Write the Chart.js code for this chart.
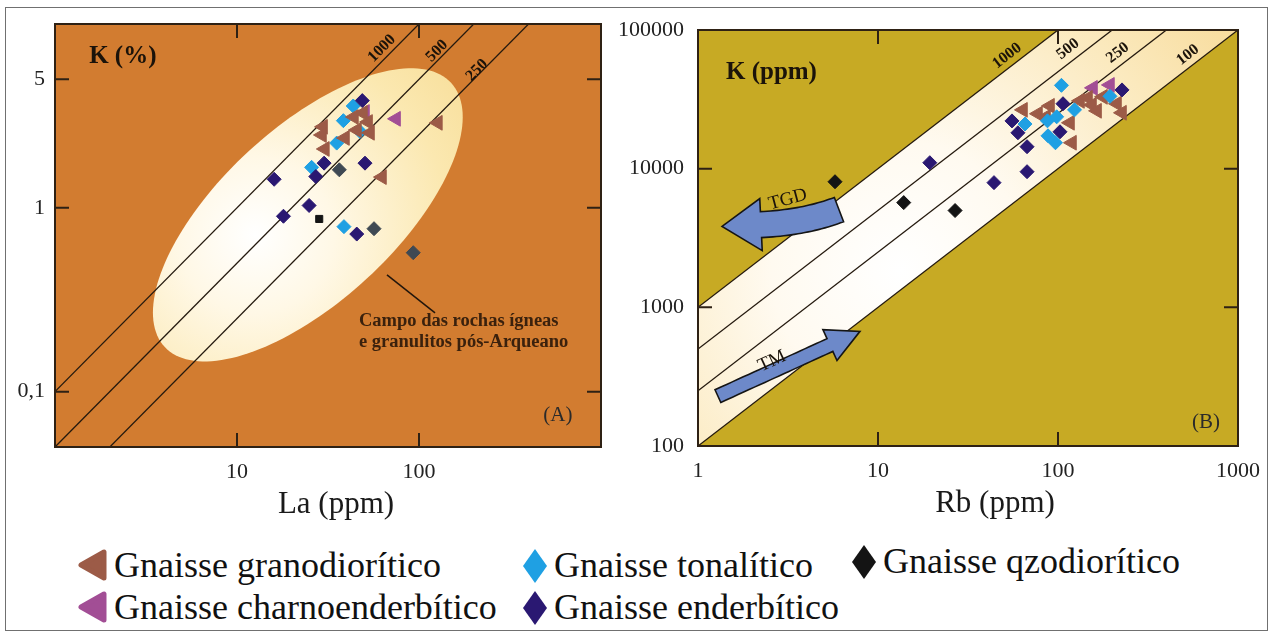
<!DOCTYPE html>
<html>
<head>
<meta charset="utf-8">
<script src="https://cdn.jsdelivr.net/npm/chart.js@4.4.1/dist/chart.umd.min.js"></script>
<style>
  body { margin: 0; background: #fff; width: 1274px; height: 635px; position: relative; overflow: hidden;
         font-family: 'Liberation Serif', 'Times New Roman', serif; }
  .frame { position: absolute; left: 5px; top: 7px; width: 1261px; height: 622px; border: 1px solid #707070; }
  #chartA { position: absolute; left: 0; top: 0; }
  #chartB { position: absolute; left: 596px; top: 0; }
  .item { position: absolute; height: 40px; display: flex; align-items: center; font-size: 36px; color: #111; white-space: nowrap; }
  .item svg { position: absolute; top: 3px; }
  .item span { position: absolute; }
</style>
</head>
<body>
<div class="frame"></div>
<canvas id="chartA" width="620" height="530"></canvas>
<canvas id="chartB" width="678" height="530"></canvas>
<div id="legend"></div>

<script>
const serif = "'Liberation Serif', 'Times New Roman', serif";

// ---- (A) La (ppm) x K (%) ----
const laRange = [1, 1000];
const kPctRange = [0.05, 10];
const laTicks = [10, 100];
const kPctTicks = [0.1, 1, 5];
const ratiosA = [1000, 500, 250];

const granodioriticoA = [[29.7, 2.76], [29.3, 2.49], [30.4, 2.09], [39.2, 2.40], [43.9, 3.12], [49.2, 3.28],
                         [52.5, 2.93], [45.6, 2.65], [53.8, 2.56], [62.6, 1.47], [127, 2.90]];
const charnoenderbiticoA = [[50.5, 3.32], [74.8, 3.05]];
const tonaliticoA = [[43.5, 3.58], [38.4, 2.98], [47.4, 2.60], [35.3, 2.25], [25.7, 1.66], [38.7, 0.79]];
const qzodioriticoA = [[36.5, 1.61], [56.6, 0.77], [93, 0.57], [28.3, 0.87]];
const enderbiticoA = [[48.8, 3.83], [30.1, 1.75], [50.5, 1.75], [16.0, 1.43], [27.1, 1.48], [24.9, 1.03],
                      [18.0, 0.90], [45.5, 0.72]];

// ---- (B) Rb (ppm) x K (ppm) ----
const rbRange = [1, 1000];
const kPpmRange = [100, 100000];
const rbTicks = [1, 10, 100, 1000];
const kPpmTicks = [100, 1000, 10000, 100000];
const ratiosB = [1000, 500, 250, 100];

const granodioriticoB = [[63.9, 26550], [77.4, 24890], [90.3, 28390], [85.8, 23660], [116.6, 21430], [119.6, 15380],
                         [132.5, 30830], [146.8, 32420], [154.5, 28830], [164.8, 26140], [212.7, 29400],
                         [226.8, 25300], [177.8, 32960]];
const charnoenderbiticoB = [[156.5, 38260], [194.4, 40180]];
const tonaliticoB = [[104.5, 39900], [123.5, 26550], [65.6, 20990], [87.4, 22130], [98.3, 23660], [88.0, 17260],
                     [96.8, 15380], [194.4, 33250]];
const qzodioriticoB = [[5.77, 8050], [13.9, 5690], [26.8, 4990]];
const enderbiticoB = [[19.4, 11040], [44.1, 7930], [67.3, 9510], [67.3, 14400], [55.5, 22100], [59.9, 18150],
                      [106.6, 29400], [102.6, 18450], [226.8, 36980]];

const colors = {
  grano: '#9c5b47', charno: '#a24e95', tonal: '#1fa0e3', qzo: '#141414', qzoGrey: '#3f4953', ender: '#2a1872'
};

const toPts = arr => arr.map(([x, y]) => ({ x, y }));

function ratioLine(r, xr, scaleK) {
  return {
    type: 'scatter', showLine: true, order: 10,
    data: [{ x: xr[0], y: r * xr[0] / scaleK }, { x: xr[1], y: r * xr[1] / scaleK }],
    borderColor: '#24190e', borderWidth: 1.3, pointRadius: 0
  };
}

function pointSet(arr, color, style, radius, extra) {
  return Object.assign({
    type: 'scatter', order: 1, data: toPts(arr),
    backgroundColor: color, borderColor: color, borderWidth: 1,
    pointStyle: style, pointRadius: radius,
    pointRotation: style === 'triangle' ? -90 : 0
  }, extra || {});
}

// dark outline + ticks pointing inward on all four sides
const frameTicks = {
  id: 'frameTicks',
  afterDatasetsDraw(chart, args, opts) {
    const { ctx, chartArea: a, scales: { x, y } } = chart;
    ctx.save();
    ctx.strokeStyle = '#2e2114';
    ctx.lineWidth = 2;
    ctx.beginPath();
    x.ticks.forEach(t => {
      const p = x.getPixelForValue(t.value);
      ctx.moveTo(p, a.bottom); ctx.lineTo(p, a.bottom - opts.length);
      ctx.moveTo(p, a.top); ctx.lineTo(p, a.top + opts.length);
    });
    y.ticks.forEach(t => {
      const p = y.getPixelForValue(t.value);
      ctx.moveTo(a.left, p); ctx.lineTo(a.left + opts.length, p);
      ctx.moveTo(a.right, p); ctx.lineTo(a.right - opts.length, p);
    });
    ctx.stroke();
    ctx.strokeRect(a.left, a.top, a.right - a.left, a.bottom - a.top);
    ctx.restore();
  }
};

// plot background and the shaded field behind the data
const field = {
  id: 'field',
  beforeDatasetsDraw(chart, args, opts) {
    const { ctx, chartArea: a } = chart;
    ctx.save();
    ctx.fillStyle = opts.background;
    ctx.fillRect(a.left, a.top, a.right - a.left, a.bottom - a.top);
    ctx.beginPath();
    ctx.rect(a.left, a.top, a.right - a.left, a.bottom - a.top);
    ctx.clip();
    if (opts.draw) opts.draw(chart);
    ctx.restore();
  },
  afterDatasetsDraw(chart, args, opts) {
    const { ctx, chartArea: a, scales: { x, y } } = chart;
    ctx.save();
    if (opts.overlay) opts.overlay(chart);
    (opts.notes || []).forEach(n => {
      const px = x.getPixelForValue(n.at[0]);
      const py = y.getPixelForValue(n.at[1]);
      ctx.save();
      ctx.translate(px, py);
      if (n.rotate) ctx.rotate(n.rotate * Math.PI / 180);
      ctx.font = n.font;
      ctx.fillStyle = n.color || '#1b130a';
      ctx.textAlign = n.align || 'center';
      ctx.textBaseline = 'middle';
      ctx.fillText(n.text, 0, 0);
      ctx.restore();
    });
    // ratio labels follow the slope of their lines
    (opts.ratioLabels || []).forEach(l => {
      const x0 = x.getPixelForValue(1), x1 = x.getPixelForValue(10);
      const y0 = y.getPixelForValue(l.k), y1 = y.getPixelForValue(l.k * 10);
      const ang = Math.atan2(y1 - y0, x1 - x0);
      ctx.save();
      ctx.translate(x.getPixelForValue(l.at[0]), y.getPixelForValue(l.at[1]));
      ctx.rotate(ang);
      ctx.font = 'bold 16px ' + serif;
      ctx.fillStyle = '#1b130a';
      ctx.textAlign = 'center';
      ctx.textBaseline = 'middle';
      ctx.fillText(l.text, 0, 0);
      ctx.restore();
    });
    if (opts.title) {
      ctx.font = '31px ' + serif;
      ctx.fillStyle = '#1a1a1a';
      ctx.textAlign = 'center';
      ctx.textBaseline = 'middle';
      ctx.fillText(opts.title.text, (a.left + a.right) / 2 + opts.title.dx, a.bottom + 58);
    }
    ctx.restore();
  }
};

function logTicks(values, fmt, pad) {
  return {
    afterBuildTicks: s => { s.ticks = values.map(v => ({ value: v })); },
    ticks: {
      autoSkip: false, maxRotation: 0, color: '#222', padding: pad,
      font: { family: serif, size: 22 },
      callback: v => fmt(v)
    },
    grid: { display: false, drawTicks: false },
    border: { display: false }
  };
}

const commaFmt = v => String(v).replace('.', ',');

// ---------- chart A ----------
const ellipseA = { center: [24.5, 0.916], major: [0.787, 0.718], minor: [-0.324, 0.347], glow: [12.6, 0.713] };

function drawEllipse(chart) {
  const { ctx, scales: { x, y } } = chart;
  const cx = Math.log10(ellipseA.center[0]), cy = Math.log10(ellipseA.center[1]);
  ctx.beginPath();
  for (let i = 0; i <= 160; i++) {
    const t = i / 160 * 2 * Math.PI;
    const lx = cx + ellipseA.major[0] * Math.cos(t) + ellipseA.minor[0] * Math.sin(t);
    const ly = cy + ellipseA.major[1] * Math.cos(t) + ellipseA.minor[1] * Math.sin(t);
    const px = x.getPixelForValue(10 ** lx), py = y.getPixelForValue(10 ** ly);
    if (i) ctx.lineTo(px, py); else ctx.moveTo(px, py);
  }
  ctx.closePath();
  const gx = x.getPixelForValue(ellipseA.glow[0]), gy = y.getPixelForValue(ellipseA.glow[1]);
  const g = ctx.createRadialGradient(gx, gy, 0, gx, gy, 260);
  g.addColorStop(0, '#ffffff');
  g.addColorStop(0.3, '#fff8e6');
  g.addColorStop(0.75, '#fbe8b0');
  g.addColorStop(1, '#f8df9c');
  ctx.fillStyle = g;
  ctx.fill();
  // pointer to the field caption
  ctx.beginPath();
  ctx.moveTo(x.getPixelForValue(66.7), y.getPixelForValue(0.432));
  ctx.lineTo(x.getPixelForValue(122.5), y.getPixelForValue(0.268));
  ctx.strokeStyle = '#22160c';
  ctx.lineWidth = 1.5;
  ctx.stroke();
}

new Chart(document.getElementById('chartA'), {
  type: 'scatter',
  data: {
    datasets: [
      ...ratiosA.map(r => ratioLine(r, laRange, 10000)),
      pointSet(granodioriticoA, colors.grano, 'triangle', 8.5),
      pointSet(charnoenderbiticoA, colors.charno, 'triangle', 8.5),
      pointSet(qzodioriticoA, colors.qzoGrey, 'rectRot', 7, {
        pointStyle: ['rectRot', 'rectRot', 'rectRot', 'rect'],
        backgroundColor: [colors.qzoGrey, colors.qzoGrey, colors.qzoGrey, colors.qzo],
        borderColor: [colors.qzoGrey, colors.qzoGrey, colors.qzoGrey, colors.qzo],
        pointRadius: [7, 7, 7, 5]
      }),
      pointSet(enderbiticoA, colors.ender, 'rectRot', 7),
      pointSet(tonaliticoA, colors.tonal, 'rectRot', 7)
    ]
  },
  options: {
    responsive: false, animation: false, devicePixelRatio: 1,
    layout: { padding: { top: 24, right: 19, bottom: 0, left: 0 } },
    scales: {
      x: Object.assign({ type: 'logarithmic', min: laRange[0], max: laRange[1],
        afterFit: s => { s.height = 83; } }, logTicks(laTicks, commaFmt, 12)),
      y: Object.assign({ type: 'logarithmic', min: kPctRange[0], max: kPctRange[1],
        afterFit: s => { s.width = 55; } }, logTicks(kPctTicks, commaFmt, 10))
    },
    plugins: {
      legend: { display: false },
      tooltip: { enabled: false },
      frameTicks: { length: 14 },
      field: {
        background: '#d27c30',
        draw: drawEllipse,
        notes: [
          { text: 'K (%)', at: [1.54, 6.62], font: 'bold 25px ' + serif, align: 'left' },
          { text: 'Campo das rochas ígneas', at: [46.8, 0.243], font: 'bold 18.5px ' + serif, align: 'left', color: '#3a210d' },
          { text: 'e granulitos pós-Arqueano', at: [46.8, 0.185], font: 'bold 18.5px ' + serif, align: 'left', color: '#3a210d' },
          { text: '(A)', at: [580, 0.074], font: '21px ' + serif, color: '#2a2a2a' }
        ],
        ratioLabels: [
          { text: '1000', at: [62.5, 7.36], k: 0.1 },
          { text: '500', at: [125.6, 7.13], k: 0.05 },
          { text: '250', at: [208, 5.6], k: 0.025 }
        ],
        title: { text: 'La (ppm)', dx: 8 }
      }
    }
  },
  plugins: [field, frameTicks]
});

// ---------- chart B ----------
const bandGlow = [13.3, 1845];
const arrowsB = [
  { text: 'TGD', tail: [6.07, 5070], bend: [3.93, 4090], tip: [1.36, 3830], body: 13, wing: 26, head: 39 },
  { text: 'TM', tail: [1.29, 229], tip: [7.94, 671], body: 7, wing: 17, head: 33 }
];

function drawBand(chart) {
  const { ctx, scales: { x, y } } = chart;
  const rMax = Math.max(...ratiosB), rMin = Math.min(...ratiosB);
  const poly = [[rbRange[0], rMax * rbRange[0]], [kPpmRange[1] / rMax, kPpmRange[1]],
                [kPpmRange[1] / rMin, kPpmRange[1]], [rbRange[0], rMin * rbRange[0]]];
  ctx.beginPath();
  poly.forEach(([a, b], i) => {
    const px = x.getPixelForValue(a), py = y.getPixelForValue(b);
    if (i) ctx.lineTo(px, py); else ctx.moveTo(px, py);
  });
  ctx.closePath();
  const gx = x.getPixelForValue(bandGlow[0]), gy = y.getPixelForValue(bandGlow[1]);
  const g = ctx.createRadialGradient(gx, gy, 0, gx, gy, 430);
  g.addColorStop(0, '#ffffff');
  g.addColorStop(0.3, '#fffaf0');
  g.addColorStop(0.7, '#fbe9bd');
  g.addColorStop(1, '#f7da98');
  ctx.fillStyle = g;
  ctx.fill();
}

function drawArrows(chart) {
  const { ctx, scales: { x, y } } = chart;
  const P = ([a, b]) => [x.getPixelForValue(a), y.getPixelForValue(b)];
  arrowsB.forEach(s => {
    const tail = P(s.tail), tip = P(s.tip);
    const ctrl = s.bend ? P(s.bend) : [(tail[0] + tip[0]) / 2, (tail[1] + tip[1]) / 2];
    let dx = tip[0] - ctrl[0], dy = tip[1] - ctrl[1];
    const len = Math.hypot(dx, dy);
    dx /= len; dy /= len;
    const base = [tip[0] - dx * s.head, tip[1] - dy * s.head];
    const top = [], bot = [];
    for (let i = 0; i <= 24; i++) {
      const t = i / 24, u = 1 - t;
      const px = u * u * tail[0] + 2 * u * t * ctrl[0] + t * t * base[0];
      const py = u * u * tail[1] + 2 * u * t * ctrl[1] + t * t * base[1];
      const tx = 2 * u * (ctrl[0] - tail[0]) + 2 * t * (base[0] - ctrl[0]);
      const ty = 2 * u * (ctrl[1] - tail[1]) + 2 * t * (base[1] - ctrl[1]);
      const tl = Math.hypot(tx, ty);
      top.push([px - ty / tl * s.body, py + tx / tl * s.body]);
      bot.push([px + ty / tl * s.body, py - tx / tl * s.body]);
    }
    ctx.beginPath();
    top.forEach(([a, b], i) => (i ? ctx.lineTo(a, b) : ctx.moveTo(a, b)));
    ctx.lineTo(base[0] - dy * s.wing, base[1] + dx * s.wing);
    ctx.lineTo(tip[0], tip[1]);
    ctx.lineTo(base[0] + dy * s.wing, base[1] - dx * s.wing);
    bot.reverse().forEach(([a, b]) => ctx.lineTo(a, b));
    ctx.closePath();
    ctx.fillStyle = '#6d89c9';
    ctx.fill();
    ctx.strokeStyle = '#151515';
    ctx.lineWidth = 1.6;
    ctx.lineJoin = 'miter';
    ctx.stroke();
  });
}

new Chart(document.getElementById('chartB'), {
  type: 'scatter',
  data: {
    datasets: [
      ...ratiosB.map(r => ratioLine(r, rbRange, 1)),
      pointSet(qzodioriticoB, colors.qzo, 'rectRot', 7),
      pointSet(enderbiticoB, colors.ender, 'rectRot', 7),
      pointSet(tonaliticoB, colors.tonal, 'rectRot', 7),
      pointSet(granodioriticoB, colors.grano, 'triangle', 8.5),
      pointSet(charnoenderbiticoB, colors.charno, 'triangle', 8.5)
    ]
  },
  options: {
    responsive: false, animation: false, devicePixelRatio: 1,
    layout: { padding: { top: 30, right: 36, bottom: 0, left: 0 } },
    scales: {
      x: Object.assign({ type: 'logarithmic', min: rbRange[0], max: rbRange[1],
        afterFit: s => { s.height = 84; } }, logTicks(rbTicks, String, 12)),
      y: Object.assign({ type: 'logarithmic', min: kPpmRange[0], max: kPpmRange[1],
        afterFit: s => { s.width = 102; } }, logTicks(kPpmTicks, String, 14))
    },
    plugins: {
      legend: { display: false },
      tooltip: { enabled: false },
      frameTicks: { length: 14 },
      field: {
        background: '#c7aa24',
        draw: drawBand,
        overlay: drawArrows,
        notes: [
          { text: 'K (ppm)', at: [1.43, 49100], font: 'bold 25px ' + serif, align: 'left' },
          { text: 'TGD', at: [3.16, 5990], font: '19px ' + serif, rotate: -15 },
          { text: 'TM', at: [2.58, 408], font: '19px ' + serif, rotate: -25 },
          { text: '(B)', at: [664, 149], font: '21px ' + serif, color: '#2a2a2a' }
        ],
        ratioLabels: [
          { text: '1000', at: [52.1, 65000], k: 1000 },
          { text: '500', at: [113.6, 72900], k: 500 },
          { text: '250', at: [215, 68400], k: 250 },
          { text: '100', at: [527, 66100], k: 100 }
        ],
        title: { text: 'Rb (ppm)', dx: 27 }
      }
    }
  },
  plugins: [field, frameTicks]
});

// ---------- legend ----------
const legendItems = [
  { label: 'Gnaisse granodiorítico', color: colors.grano, shape: 'tri', left: 76, top: 545 },
  { label: 'Gnaisse tonalítico', color: colors.tonal, shape: 'dia', left: 522, top: 545 },
  { label: 'Gnaisse qzodiorítico', color: colors.qzo, shape: 'dia', left: 851, top: 541 },
  { label: 'Gnaisse charnoenderbítico', color: colors.charno, shape: 'tri', left: 76, top: 587 },
  { label: 'Gnaisse enderbítico', color: colors.ender, shape: 'dia', left: 522, top: 587 }
];

const icon = (shape, color) => shape === 'tri'
  ? `<svg width="32" height="34" viewBox="0 0 32 34"><path d="M28 4 L28 30 L5 17 Z" fill="${color}" stroke="${color}" stroke-width="5" stroke-linejoin="round"/></svg>`
  : `<svg width="26" height="36" viewBox="0 0 26 36"><path d="M13 1 L25 18 L13 35 L1 18 Z" fill="${color}"/></svg>`;

document.getElementById('legend').innerHTML = legendItems.map(it =>
  `<div class="item" style="left:${it.left}px;top:${it.top}px">${icon(it.shape, it.color)}` +
  `<span style="left:${it.shape === 'tri' ? 38 : 32}px">${it.label}</span></div>`
).join('');
</script>
</body>
</html>
